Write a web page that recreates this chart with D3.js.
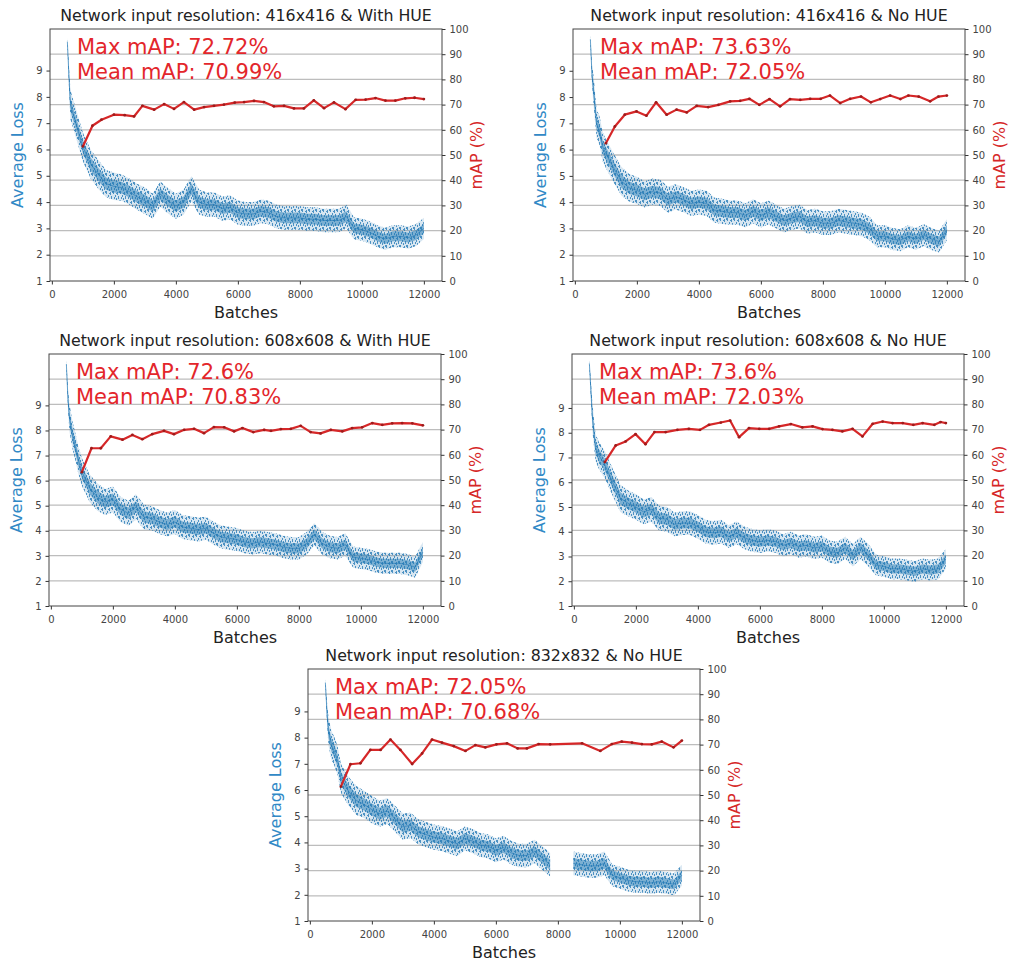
<!DOCTYPE html>
<html>
<head>
<meta charset="utf-8">
<script src="https://cdn.jsdelivr.net/npm/d3@7"></script>
<style>
  body { margin: 0; background: #fff; }
  svg { display: block; font-family: "DejaVu Sans", sans-serif; }
</style>
</head>
<body>
<svg id="chart" width="1011" height="963"></svg>
<script>
// ---- data ----
var titles = [
  "Network input resolution: 416x416 & With HUE",
  "Network input resolution: 416x416 & No HUE",
  "Network input resolution: 608x608 & With HUE",
  "Network input resolution: 608x608 & No HUE",
  "Network input resolution: 832x832 & No HUE"
];
var maxTexts = ["Max mAP: 72.72%", "Max mAP: 73.63%", "Max mAP: 72.6%", "Max mAP: 73.6%", "Max mAP: 72.05%"];
var meanTexts = ["Mean mAP: 70.99%", "Mean mAP: 72.05%", "Mean mAP: 70.83%", "Mean mAP: 72.03%", "Mean mAP: 70.68%"];

var batchTicks = [0, 2000, 4000, 6000, 8000, 10000, 12000];
var lossTicks = [1, 2, 3, 4, 5, 6, 7, 8, 9];
var mapTicks = [0, 10, 20, 30, 40, 50, 60, 70, 80, 90, 100];
var lossTop = [10.58, 10.59, 11.05, 11.18, 10.62];

// average loss, sampled along the batch axis (null = no data)
var lossBatches = [500, 550, 600, 700, 800, 900, 1000, 1250, 1500, 1750, 2000, 2250, 2500, 2750, 3000,
  3250, 3500, 3750, 4000, 4250, 4500, 4750, 5000, 5250, 5500, 5750, 6000, 6250, 6500, 6750, 7000,
  7250, 7500, 7750, 8000, 8250, 8500, 8750, 9000, 9250, 9500, 9750, 10000, 10250, 10500, 10750, 11000,
  11250, 11500, 11750, 12000];
// half width of the noisy loss band
var lossSpread = [0.15, 0.4, 0.55, 0.55, 0.55, 0.55, 0.55, 0.55, 0.55, 0.52, 0.52, 0.5, 0.5, 0.5, 0.5,
  0.48, 0.48, 0.48, 0.48, 0.48, 0.48, 0.48, 0.46, 0.46, 0.46, 0.46, 0.46, 0.45, 0.45, 0.45, 0.45,
  0.45, 0.45, 0.45, 0.45, 0.45, 0.45, 0.45, 0.45, 0.45, 0.45, 0.42, 0.42, 0.42, 0.42, 0.42, 0.42,
  0.42, 0.42, 0.42, 0.4];

var loss416Hue = [10.1, 8.8, 7.7, 7.3, 6.9, 6.5, 6.1, 5.45, 5.05, 4.7, 4.6, 4.55, 4.4, 4.2, 4.05,
  3.85, 4.3, 4.05, 3.85, 4.0, 4.5, 4.0, 3.9, 3.9, 3.75, 3.8, 3.6, 3.55, 3.55, 3.65, 3.6,
  3.45, 3.4, 3.4, 3.4, 3.35, 3.35, 3.3, 3.3, 3.3, 3.45, 3.0, 2.95, 2.85, 2.7, 2.6, 2.7,
  2.7, 2.65, 2.75, 3.0];
var loss416NoHue = [10.2, 8.9, 8.3, 7.0, 6.7, 6.1, 5.85, 5.3, 4.8, 4.55, 4.45, 4.3, 4.4, 4.35, 4.1,
  4.2, 4.1, 3.95, 4.0, 3.95, 3.7, 3.65, 3.6, 3.6, 3.5, 3.65, 3.5, 3.6, 3.45, 3.3, 3.4,
  3.45, 3.25, 3.3, 3.2, 3.2, 3.3, 3.25, 3.2, 3.15, 3.0, 2.7, 2.7, 2.6, 2.55, 2.7, 2.6,
  2.75, 2.6, 2.5, 2.95];
var loss608Hue = [10.65, 9.3, 8.5, 7.8, 7.3, 6.75, 6.35, 5.7, 5.35, 5.15, 5.25, 4.85, 4.7, 4.95, 4.55,
  4.5, 4.35, 4.25, 4.35, 4.15, 4.1, 4.05, 4.1, 3.9, 3.75, 3.7, 3.65, 3.55, 3.5, 3.55, 3.5,
  3.45, 3.35, 3.3, 3.3, 3.5, 3.85, 3.5, 3.35, 3.3, 3.45, 2.95, 2.9, 2.85, 2.75, 2.7, 2.7,
  2.7, 2.65, 2.55, 3.15];
var loss608NoHue = [10.8, 9.7, 8.6, 7.4, 7.1, 6.9, 6.7, 6.0, 5.35, 5.15, 5.0, 4.8, 4.9, 4.55, 4.5,
  4.3, 4.35, 4.35, 4.2, 4.0, 3.95, 4.0, 3.8, 3.95, 3.75, 3.65, 3.6, 3.65, 3.6, 3.45, 3.55,
  3.4, 3.45, 3.35, 3.4, 3.2, 3.15, 3.35, 3.05, 3.35, 3.05, 2.65, 2.6, 2.5, 2.5, 2.45, 2.4,
  2.5, 2.45, 2.5, 2.9];
var loss832NoHue = [10.1, 9.0, 8.25, 7.7, 7.45, 7.1, 6.45, 5.95, 5.6, 5.45, 5.25, 5.1, 5.2, 4.9, 4.6,
  4.65, 4.4, 4.3, 4.2, 4.15, 4.05, 3.95, 4.15, 4.05, 3.9, 3.85, 3.7, 3.8, 3.6, 3.5, 3.5,
  3.65, 3.4, 3.15, null, null, 3.2, 3.15, 3.1, 3.1, 3.2, 2.75, 2.65, 2.55, 2.5, 2.5, 2.45,
  2.5, 2.45, 2.4, 2.75];

// mAP checkpoints
var map416HueBatches = [1000, 1310, 1600, 2000, 2350, 2650, 2920, 3300, 3620, 3940, 4260, 4590, 4910, 5230, 5550,
  5900, 6200, 6520, 6840, 7160, 7490, 7810, 8130, 8450, 8780, 9100, 9470, 9800, 10120, 10440,
  10760, 11080, 11400, 11700, 12000];
var map416Hue = [53.4, 61.6, 64.0, 66.0, 65.8, 65.3, 69.5, 68.0, 70.2, 68.3, 71.0, 68.0, 69.0, 69.5, 70.0,
  70.8, 71.0, 71.5, 71.0, 69.3, 69.5, 68.5, 68.5, 71.7, 68.6, 70.9, 68.2, 71.9, 72.0, 72.6,
  71.6, 71.6, 72.5, 72.72, 72.2];
var map416NoHueBatches = [1000, 1290, 1610, 1990, 2310, 2620, 2960, 3280, 3610, 3930, 4300, 4630, 5010, 5330, 5630,
  5950, 6280, 6620, 6940, 7270, 7590, 7930, 8230, 8560, 8880, 9230, 9550, 9850, 10170, 10500,
  10760, 11090, 11460, 11730, 12000];
var map416NoHue = [54.7, 61.3, 66.0, 67.3, 65.6, 70.9, 66.0, 68.0, 66.9, 69.5, 69.0, 69.9, 71.3, 71.5, 72.3,
  69.9, 72.2, 69.3, 72.2, 71.9, 72.3, 72.3, 73.6, 70.6, 72.3, 73.2, 70.9, 72.2, 73.6, 72.2,
  73.6, 73.2, 71.3, 73.2, 73.6];
var map608HueBatches = [1000, 1310, 1610, 1930, 2310, 2630, 2950, 3270, 3650, 3970, 4300, 4620, 4940, 5260, 5590,
  5910, 6180, 6530, 6880, 7100, 7420, 7740, 8060, 8380, 8700, 9030, 9400, 9720, 10040, 10370,
  10690, 11010, 11330, 11660, 12000];
var map608Hue = [53.1, 62.6, 62.6, 67.3, 66.0, 67.9, 66.2, 68.2, 69.5, 68.2, 69.9, 70.3, 68.6, 71.0, 70.9,
  69.3, 70.6, 69.0, 69.9, 69.5, 70.2, 70.3, 71.5, 69.0, 68.5, 69.9, 69.3, 70.6, 70.9, 72.6,
  71.9, 72.5, 72.6, 72.5, 71.7];
var map608NoHueBatches = [1000, 1350, 1670, 1990, 2310, 2600, 2960, 3340, 3710, 4070, 4360, 4740, 5040, 5330, 5650,
  5980, 6300, 6620, 7000, 7370, 7700, 8020, 8340, 8660, 8990, 9310, 9640, 9960, 10280, 10610,
  10950, 11250, 11630, 11830, 12000];
var map608NoHue = [57.1, 63.7, 65.3, 68.2, 64.2, 69.0, 69.0, 69.9, 70.3, 69.9, 71.9, 72.8, 73.6, 67.0, 70.6,
  70.3, 70.3, 71.3, 72.2, 70.9, 71.3, 70.2, 69.9, 69.3, 70.3, 67.3, 72.3, 73.2, 72.6, 72.6,
  71.9, 72.6, 71.9, 73.0, 72.6];
var map832NoHueBatches = [1000, 1310, 1630, 1950, 2280, 2600, 2920, 3300, 3620, 3940, 4260, 4640, 5020, 5340, 5660,
  6020, 6360, 6700, 7000, 7380, 7750, 8780, 9370, 9740, 10060, 10390, 10710, 11030, 11350, 11730,
  12000];
var map832NoHue = [53.3, 62.2, 62.6, 67.9, 67.9, 72.0, 67.9, 62.3, 66.5, 72.0, 70.8, 69.4, 67.5, 69.8, 68.9,
  70.1, 70.5, 68.5, 68.5, 70.2, 70.1, 70.5, 67.5, 70.2, 71.2, 70.8, 70.2, 70.1, 71.2, 68.9,
  71.6];

var lossSeries = [loss416Hue, loss416NoHue, loss608Hue, loss608NoHue, loss832NoHue];
var mapBatchSeries = [map416HueBatches, map416NoHueBatches, map608HueBatches, map608NoHueBatches, map832NoHueBatches];
var mapSeries = [map416Hue, map416NoHue, map608Hue, map608NoHue, map832NoHue];

// ---- layout ----
var panelBoxes = [[50, 29], [573, 29], [49, 354], [572, 354], [308, 669]];
var panelW = 392,
    panelH = 252;
var lossColor = '#1f77b4',
    mapColor = '#d62728',
    noteColor = '#e3262b';

var svg = d3.select('#chart');
svg.append('rect').attr('width', 1011).attr('height', 963).attr('fill', '#fff');

// speckle texture so the loss band looks like a cloud of small points
var pat = svg.append('defs').append('pattern')
  .attr('id', 'speckle')
  .attr('width', 7).attr('height', 9)
  .attr('patternUnits', 'userSpaceOnUse');
pat.append('rect').attr('width', 7).attr('height', 9).attr('fill', lossColor).attr('opacity', 0.18);
[[0, 0, 1, 3], [2, 4, 1, 2], [4, 1, 1, 3], [1, 6, 1, 2], [3, 2, 1, 1], [5, 5, 1, 3], [6, 0, 1, 2], [3, 7, 1, 2]]
  .forEach(function (r) {
    pat.append('rect').attr('x', r[0]).attr('y', r[1]).attr('width', r[2]).attr('height', r[3])
      .attr('fill', lossColor).attr('opacity', 0.75);
  });

function styleAxis(ax) {
  ax.select('.domain').remove();
  ax.selectAll('.tick line').attr('stroke', '#333');
  ax.selectAll('.tick text').attr('fill', '#444').attr('font-size', 10)
    .attr('font-family', '"DejaVu Sans", sans-serif');
}

function drawPanel(i) {
  var box = panelBoxes[i];
  var g = svg.append('g').attr('transform', 'translate(' + box[0] + ',' + box[1] + ')');

  var x = d3.scaleLinear().domain([-60, 12585]).range([0, panelW]);
  var yLoss = d3.scaleLinear().domain([1, lossTop[i]]).range([panelH, 0]);
  var yMap = d3.scaleLinear().domain([0, 100]).range([panelH, 0]);

  g.append('clipPath').attr('id', 'clip' + i)
    .append('rect').attr('width', panelW).attr('height', panelH);

  // grid comes from the mAP axis
  g.append('g').selectAll('line')
    .data(mapTicks.slice(1, -1))
    .enter().append('line')
    .attr('x1', 0).attr('x2', panelW)
    .attr('y1', function (d) { return yMap(d) })
    .attr('y2', function (d) { return yMap(d) })
    .attr('stroke', '#bdbdbd').attr('stroke-width', 1.3);

  var pts = lossBatches.map(function (b, k) {
    return { b: b, v: lossSeries[i][k], s: lossSpread[k] };
  });
  var plot = g.append('g').attr('clip-path', 'url(#clip' + i + ')');

  var outer = d3.area().defined(function (d) { return d.v != null })
    .x(function (d) { return x(d.b) })
    .y0(function (d) { return yLoss(d.v - d.s) })
    .y1(function (d) { return yLoss(d.v + d.s) });
  var inner = d3.area().defined(function (d) { return d.v != null })
    .x(function (d) { return x(d.b) })
    .y0(function (d) { return yLoss(d.v - d.s * 0.45) })
    .y1(function (d) { return yLoss(d.v + d.s * 0.45) });
  var mid = d3.line().defined(function (d) { return d.v != null })
    .x(function (d) { return x(d.b) })
    .y(function (d) { return yLoss(d.v) });

  plot.append('path').datum(pts).attr('d', outer).attr('fill', 'url(#speckle)');
  plot.append('path').datum(pts).attr('d', inner).attr('fill', lossColor).attr('opacity', 0.5);
  plot.append('path').datum(pts).attr('d', mid).attr('fill', 'none')
    .attr('stroke', lossColor).attr('stroke-width', 1).attr('opacity', 0.6);

  // mAP line
  var mpts = mapBatchSeries[i].map(function (b, k) { return { b: b, v: mapSeries[i][k] } });
  var mline = d3.line().x(function (d) { return x(d.b) }).y(function (d) { return yMap(d.v) });
  plot.append('path').datum(mpts).attr('d', mline).attr('fill', 'none')
    .attr('stroke', mapColor).attr('stroke-width', 2.2).attr('stroke-linejoin', 'round');
  plot.append('g').selectAll('circle').data(mpts).enter().append('circle')
    .attr('cx', function (d) { return x(d.b) })
    .attr('cy', function (d) { return yMap(d.v) })
    .attr('r', 1.4).attr('fill', '#9e1b1b');

  // axes
  var bx = g.append('g').attr('transform', 'translate(0,' + panelH + ')')
    .call(d3.axisBottom(x).tickValues(batchTicks).tickFormat(d3.format('d')).tickSize(3.5).tickPadding(6));
  styleAxis(bx);
  var ly = g.append('g')
    .call(d3.axisLeft(yLoss).tickValues(lossTicks).tickSize(3.5).tickPadding(4));
  styleAxis(ly);
  var ry = g.append('g').attr('transform', 'translate(' + panelW + ',0)')
    .call(d3.axisRight(yMap).tickValues(mapTicks).tickSize(3.5).tickPadding(4));
  styleAxis(ry);

  g.append('rect').attr('width', panelW).attr('height', panelH)
    .attr('fill', 'none').attr('stroke', '#444').attr('stroke-width', 1);

  // texts
  g.append('text').attr('x', panelW / 2).attr('y', -8).attr('text-anchor', 'middle')
    .attr('font-size', 15.8).attr('fill', '#222').text(titles[i]);
  g.append('text').attr('x', panelW / 2).attr('y', panelH + 37).attr('text-anchor', 'middle')
    .attr('font-size', 16).attr('fill', '#222').text('Batches');
  g.append('text').attr('transform', 'translate(-27,' + (panelH / 2) + ') rotate(-90)')
    .attr('text-anchor', 'middle').attr('font-size', 16).attr('fill', '#3189c6').text('Average Loss');
  g.append('text').attr('transform', 'translate(' + (panelW + 40) + ',' + (panelH / 2) + ') rotate(-90)')
    .attr('text-anchor', 'middle').attr('font-size', 16).attr('fill', mapColor).text('mAP (%)');

  g.append('text').attr('x', 27).attr('y', 25).attr('font-size', 21).attr('fill', noteColor).text(maxTexts[i]);
  g.append('text').attr('x', 27).attr('y', 50).attr('font-size', 21).attr('fill', noteColor).text(meanTexts[i]);
}

for (var i = 0; i < titles.length; i++) {
  drawPanel(i);
}
</script>
</body>
</html>
